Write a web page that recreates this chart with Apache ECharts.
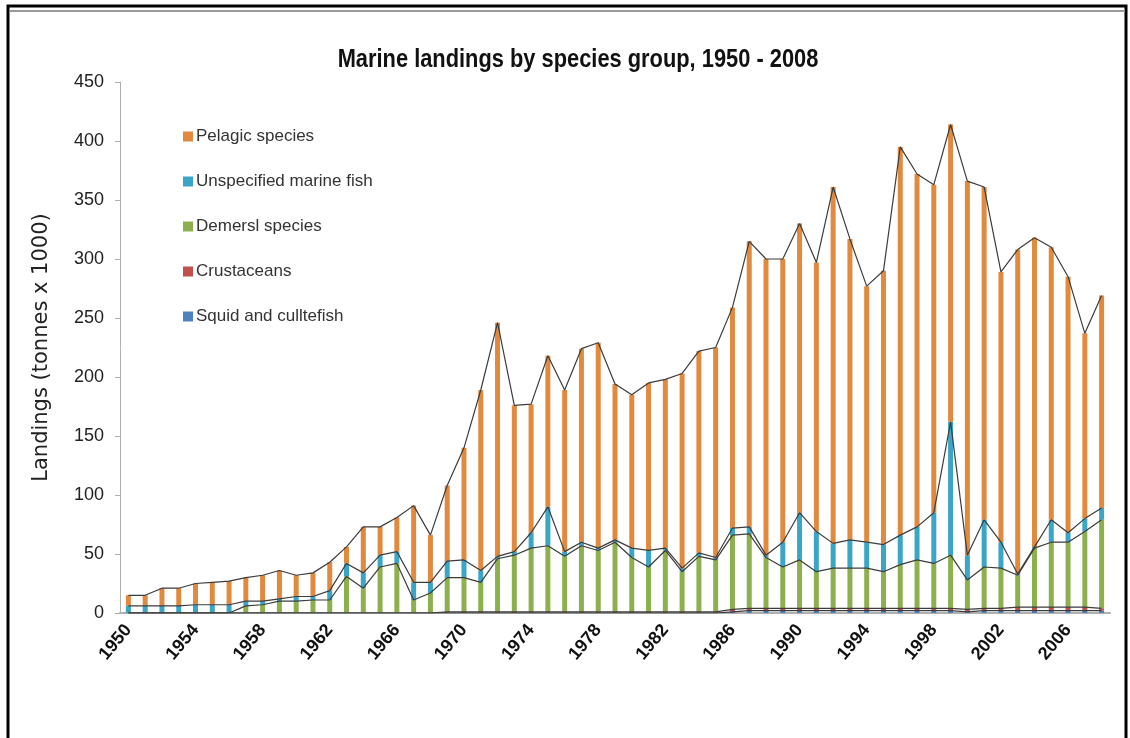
<!DOCTYPE html>
<html>
<head>
<meta charset="utf-8">
<title>Marine landings by species group, 1950 - 2008</title>
<script src="https://cdn.jsdelivr.net/npm/echarts@6/dist/echarts.min.js"></script>
<style>
  html, body { margin: 0; padding: 0; background: #ffffff; }
  #chart { width: 1130px; height: 738px; }
</style>
</head>
<body>
<div id="chart"></div>
<script>
// Landing years, 1950 - 2008
var years = [];
for (var y = 1950; y <= 2008; y++) { years.push(String(y)); }

// Landings per species group (tonnes x 1000), bottom of the stack first
var squid = [
  0,0,0,0,0,0,0,0,0,0, 0,0,0,0,0,0,0,0,0,0,
  0,0,0,0,0,0,0,0,0,0, 0,0,0,0,0,0,1,2,2,2,
  2,2,2,2,2,2,2,2,2,2, 1,2,2,2,2,2,2,2,2
];
var crustaceans = [
  0,0,0,0,0,0,0,0,0,0, 0,0,0,0,0,0,0,0,0,1,
  1,1,1,1,1,1,1,1,1,1, 1,1,1,1,1,1,2,2,2,2,
  2,2,2,2,2,2,2,2,2,2, 2,2,2,3,3,3,3,3,2
];
var demersal = [
  0,0,0,0,0,0,0,6,7,10, 10,11,11,31,21,39,42,11,17,29,
  29,25,45,48,54,56,47,56,52,59, 46,38,52,34,47,44,63,63,43,35,
  41,31,34,34,34,31,37,41,38,45, 25,35,34,27,50,55,55,64,75
];
var unspecified = [
  6,6,6,6,7,7,7,4,3,2, 4,3,8,11,13,10,10,15,9,14,
  15,10,2,3,13,33,4,3,2,2, 8,14,2,3,3,2,6,6,2,21,
  40,34,21,24,22,23,25,28,43,113, 21,40,22,1,1,19,8,11,10
];
var pelagic = [
  9,9,15,15,18,19,20,20,22,24, 18,20,24,14,39,24,29,65,40,64,
  95,153,198,124,109,128,137,164,174,132, 130,142,143,165,171,178,187,242,251,240,
  245,228,302,255,217,232,329,299,278,252, 317,282,229,275,262,231,217,157,180
];

var groups = [
  { name: 'Squid and culltefish',     data: squid,       color: '#4F81BD' },
  { name: 'Crustaceans',              data: crustaceans, color: '#C0504D' },
  { name: 'Demersl species',          data: demersal,    color: '#8DB04F' },
  { name: 'Unspecified marine fish',  data: unspecified, color: '#3BA5C6' },
  { name: 'Pelagic species',          data: pelagic,     color: '#E0893F' }
];

var yTicks = { min: 0, max: 450, step: 50 };

var sans = '"Liberation Sans", Arial, sans-serif';

var series = [];
// stacked thin columns
groups.forEach(function (g) {
  series.push({
    name: g.name,
    type: 'bar',
    stack: 'landings',
    barWidth: 5,
    itemStyle: { color: g.color },
    data: g.data,
    z: 2
  });
});
// series lines joining the top of each stacked segment
groups.forEach(function (g) {
  series.push({
    name: g.name + ' line',
    type: 'line',
    stack: 'tops',
    data: g.data,
    symbol: 'none',
    silent: true,
    lineStyle: { color: '#3c3c3c', width: 1.2 },
    z: 3
  });
});

var chart = echarts.init(document.getElementById('chart'), null, { renderer: 'canvas' });
chart.setOption({
  backgroundColor: '#ffffff',
  animation: false,
  legend: {
    orient: 'vertical',
    left: 178,
    top: 123,
    itemWidth: 10,
    itemHeight: 10,
    itemGap: 28,
    icon: 'rect',
    data: ['Pelagic species', 'Unspecified marine fish', 'Demersl species', 'Crustaceans', 'Squid and culltefish'],
    textStyle: { fontFamily: sans, fontSize: 17, color: '#333333', padding: [0, 0, 0, -2] }
  },
  grid: { left: 120, right: 20, top: 82, bottom: 125, containLabel: false },
  xAxis: {
    type: 'category',
    data: years,
    boundaryGap: true,
    axisLine: { lineStyle: { color: '#b0b0b0', width: 2 } },
    axisTick: { show: false },
    axisLabel: {
      interval: 3,
      rotate: 50,
      margin: 14,
      fontFamily: sans,
      fontSize: 18,
      fontWeight: 'bold',
      color: '#111111'
    }
  },
  yAxis: {
    type: 'value',
    min: yTicks.min,
    max: yTicks.max,
    interval: yTicks.step,
    name: 'Landings (tonnes x 1000)',
    nameLocation: 'middle',
    nameGap: 68,
    nameTextStyle: { fontFamily: '"DejaVu Sans", sans-serif', fontSize: 21, color: '#222222' },
    splitLine: { show: false },
    axisLine: { show: true, lineStyle: { color: '#b0b0b0', width: 1 } },
    axisTick: { show: true, length: 5, lineStyle: { color: '#b0b0b0' } },
    axisLabel: { fontFamily: sans, fontSize: 18, color: '#222222', margin: 16 }
  },
  graphic: [
    { type: 'rect', shape: { x: 8, y: 6, width: 1118, height: 760 },
      style: { fill: 'none', stroke: '#000000', lineWidth: 3 }, silent: true },
    { type: 'line', shape: { x1: 10, y1: 11, x2: 1125, y2: 11 },
      style: { stroke: '#9a9a9a', lineWidth: 2 }, silent: true },
    // chart title, set in a condensed face
    { type: 'text', x: 578, y: 60, scaleX: 0.84, scaleY: 1,
      style: {
        text: 'Marine landings by species group, 1950 - 2008',
        font: 'bold 26px "Liberation Sans", Arial, sans-serif',
        fill: '#111111', align: 'center', verticalAlign: 'middle'
      }, silent: true }
  ],
  series: series
});
</script>
</body>
</html>
